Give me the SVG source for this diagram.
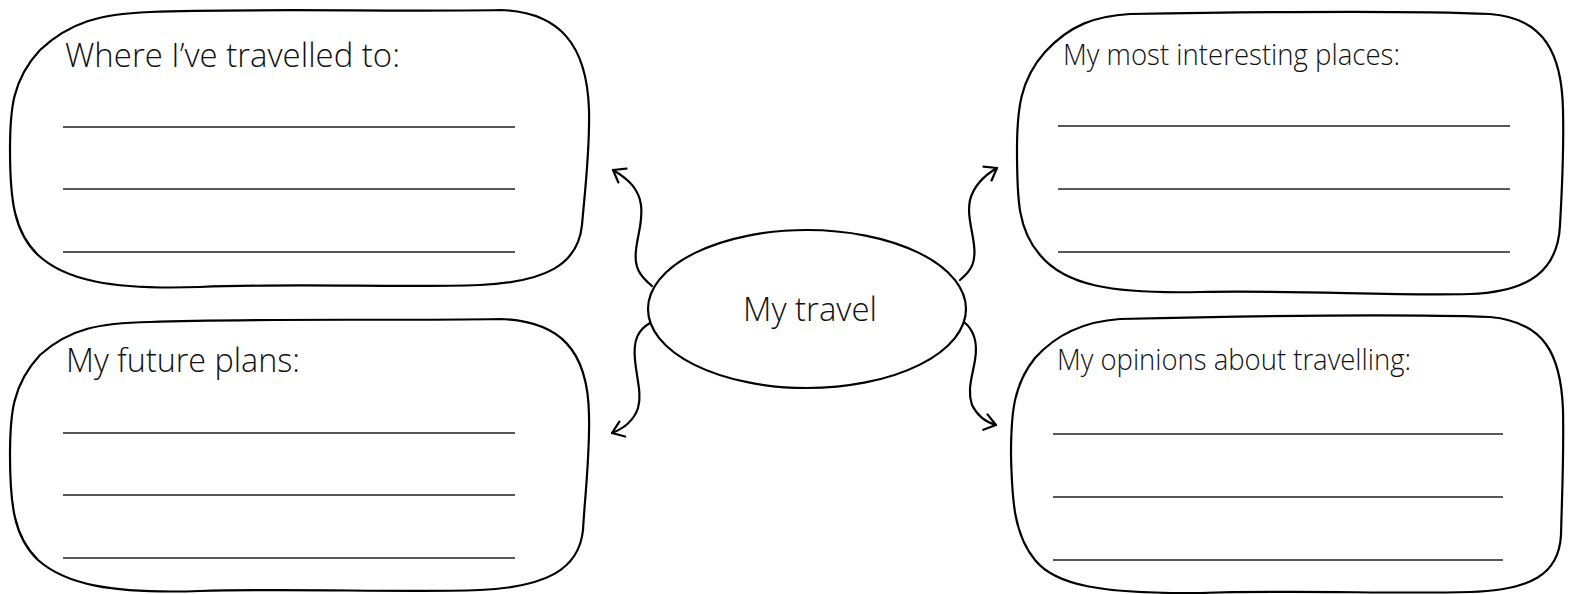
<svg xmlns="http://www.w3.org/2000/svg" width="1573" height="594" viewBox="0 0 1573 594">
<style>
.box{fill:#fff;stroke:#000;stroke-width:2.2;stroke-linejoin:round}
.ln{stroke:#222;stroke-width:1.6}
.lbl{font-family:"Open Sans","Liberation Sans",sans-serif;font-weight:300;font-size:33px;fill:#111}
.sm{font-size:30px}
.con{fill:none;stroke:#000;stroke-width:2.2;stroke-linecap:round}
</style>
<defs>
<marker id="arr" markerUnits="userSpaceOnUse" markerWidth="30" markerHeight="30" viewBox="-15 -15 30 30" refX="0" refY="0" orient="auto">
<path d="M-11,-8 L0,0 L-11,8" fill="none" stroke="#000" stroke-width="2.2" stroke-linecap="round" stroke-linejoin="round"/>
</marker>
</defs>
<rect width="1573" height="594" fill="#fff"/>
<g id="box-travelled">
<path class="box" d="M150,12 C250,8 400,12 500,10 C560,12 587,45 589,110 C590,150 585,190 582,225 C578,265 545,282 480,285 C400,288 300,283 200,287 C110,290 65,280 38,255 C14,232 10,200 10,150 C10,110 12,80 40,50 C70,22 100,14 150,12 Z"/>
<text class="lbl" x="65" y="67" textLength="335" lengthAdjust="spacingAndGlyphs">Where I’ve travelled to:</text>
<line class="ln" x1="63" y1="127" x2="515" y2="127"/>
<line class="ln" x1="63" y1="189" x2="515" y2="189"/>
<line class="ln" x1="63" y1="252" x2="515" y2="252"/>
</g>
<g id="box-future">
<path class="box" d="M150,322 C250,318 400,321 500,319 C560,321 588,350 589,415 C590,455 585,495 583,530 C579,570 545,587 480,590 C400,593 300,588 200,591 C110,594 65,584 38,560 C14,537 10,505 10,455 C10,415 12,385 40,355 C70,328 100,323 150,322 Z"/>
<text class="lbl" x="66" y="372" textLength="234" lengthAdjust="spacingAndGlyphs">My future plans:</text>
<line class="ln" x1="63" y1="433" x2="515" y2="433"/>
<line class="ln" x1="63" y1="495" x2="515" y2="495"/>
<line class="ln" x1="63" y1="558" x2="515" y2="558"/>
</g>
<g id="box-interesting">
<path class="box" d="M1130,14 C1250,12 1400,10 1490,14 C1545,18 1562,55 1563,110 C1564,150 1562,190 1560,225 C1558,270 1530,292 1470,294 C1390,296 1300,290 1200,292 C1110,294 1065,285 1040,255 C1018,230 1017,200 1017,150 C1017,110 1020,80 1045,52 C1070,25 1095,16 1130,14 Z"/>
<text class="lbl sm" x="1063" y="65" textLength="337" lengthAdjust="spacingAndGlyphs">My most interesting places:</text>
<line class="ln" x1="1058" y1="126" x2="1510" y2="126"/>
<line class="ln" x1="1058" y1="189" x2="1510" y2="189"/>
<line class="ln" x1="1058" y1="252" x2="1510" y2="252"/>
</g>
<g id="box-opinions">
<path class="box" d="M1120,319 C1250,316 1400,314 1490,317 C1545,322 1561,355 1563,410 C1564,455 1562,495 1561,535 C1559,575 1530,590 1470,592 C1390,594 1300,590 1200,593 C1100,594 1055,585 1035,560 C1014,535 1012,500 1011,455 C1011,415 1013,385 1035,358 C1060,330 1090,321 1120,319 Z"/>
<text class="lbl sm" x="1057" y="370" textLength="354" lengthAdjust="spacingAndGlyphs">My opinions about travelling:</text>
<line class="ln" x1="1053" y1="434" x2="1503" y2="434"/>
<line class="ln" x1="1053" y1="497" x2="1503" y2="497"/>
<line class="ln" x1="1053" y1="560" x2="1503" y2="560"/>
</g>
<g id="center">
<ellipse cx="807" cy="309" rx="159" ry="79" fill="#fff" stroke="#000" stroke-width="2.2"/>
<text class="lbl" x="743" y="321" textLength="134" lengthAdjust="spacingAndGlyphs">My travel</text>
</g>
<g id="connectors">
<path class="con" marker-end="url(#arr)" d="M652,286 C640,276 634,268 636,250 C638,232 643,222 641,205 C639,190 630,180 613,170"/>
<path class="con" marker-end="url(#arr)" d="M650,323 C638,330 633,340 635,360 C637,380 642,395 638,408 C634,420 625,428 612,433"/>
<path class="con" marker-end="url(#arr)" d="M960,280 C972,270 976,262 974,245 C972,228 967,215 970,200 C974,185 985,175 997,168"/>
<path class="con" marker-end="url(#arr)" d="M964,322 C974,330 978,342 975,360 C972,378 967,390 972,405 C977,415 985,422 996,425"/>
</g>
</svg>
